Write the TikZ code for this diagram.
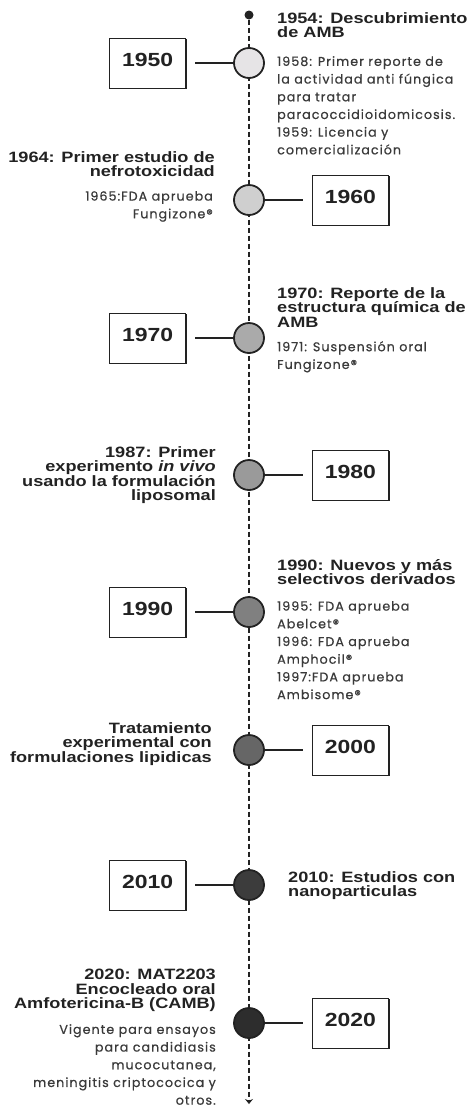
\documentclass[tikz,border=0pt]{standalone}
\usepackage{fontspec}
\usetikzlibrary{positioning,shadows,arrows.meta}
\newfontfamily\titfont{Liberation Sans}[UprightFont={* Bold}, ItalicFont={* Bold Italic}, FakeStretch=1.21]
\newfontfamily\txtfont{Poppins}[FakeBold=0.6, LetterSpace=8]
\definecolor{tinta}{HTML}{222222}
\definecolor{texto}{HTML}{3A3A3A}
\definecolor{gA}{HTML}{E6E4E6}
\definecolor{gB}{HTML}{CFCFCF}
\definecolor{gC}{HTML}{AAAAAA}
\definecolor{gD}{HTML}{9A9A9A}
\definecolor{gE}{HTML}{808080}
\definecolor{gF}{HTML}{666666}
\definecolor{gG}{HTML}{3C3C3C}
\definecolor{gH}{HTML}{2D2D2D}
\tikzset{
  punto/.style={circle, fill=tinta, minimum size=9pt, inner sep=0pt},
  eje/.style={draw=tinta, line width=2pt, dash pattern=on 5pt off 3pt, -{Stealth[length=5pt,width=8pt]}},
  hito/.style={circle, draw=tinta, line width=1.8pt, minimum size=30pt, inner sep=0pt},
  anio/.style={draw=tinta, fill=white, line width=0.9pt, minimum width=76pt, minimum height=50pt,
    inner sep=0pt, text height=14pt, text depth=7pt, text=tinta,
    font=\titfont\fontsize{19}{19}\selectfont,
    drop shadow={shadow xshift=1.3pt, shadow yshift=-1.3pt, fill=tinta, opacity=1}},
  conector/.style={draw=tinta, line width=1.8pt},
  titulo/.style={inner sep=0pt, text=tinta, font=\titfont\fontsize{15}{14.5}\selectfont},
  cuerpo/.style={inner sep=0pt, text=texto, font=\txtfont\fontsize{12.7}{17.7}\selectfont},
  der/.style={anchor=north west, align=left},
  izq/.style={anchor=north east, align=right}
}

\begin{document}
\begin{tikzpicture}[x=1pt, y=-1pt]
  %%%%% START %%%%%
  \useasboundingbox (0,0) rectangle (469,1109);
  \node[punto] (inicio) at (249,15) {};
  \coordinate (fin) at (249,1104);
  \draw[eje] (inicio) -- (fin);

  % 1950
  \node[hito, fill=gA] (c1950) at (249,63) {};
  \node[anio, left=47pt of c1950] (a1950) {1950};
  \draw[conector, shorten <=9pt] (a1950) -- (c1950);
  \node[titulo, der] (t1954) at (277,12) {1954: Descubrimiento\\de AMB};
  \node[cuerpo, der] (n1958) at (277,56) {1958: Primer reporte de\\la actividad anti fúngica\\para tratar\\paracoccidioidomicosis.\\1959: Licencia y\\comercialización};

  % 1960
  \node[hito, fill=gB] (c1960) at (249,200) {};
  \node[anio, right=47pt of c1960] (a1960) {1960};
  \draw[conector, shorten >=9pt] (c1960) -- (a1960);
  \node[titulo, izq] (t1964) at (215,151) {1964: Primer estudio de\\nefrotoxicidad};
  \node[cuerpo, izq] (n1965) at (213,191) {1965:FDA aprueba\\Fungizone®};

  % 1970
  \node[hito, fill=gC] (c1970) at (249,338) {};
  \node[anio, left=47pt of c1970] (a1970) {1970};
  \draw[conector, shorten <=9pt] (a1970) -- (c1970);
  \node[titulo, der] (t1970) at (277,287) {1970: Reporte de la\\estructura química de\\AMB};
  \node[cuerpo, der] (n1971) at (277,341) {1971: Suspensión oral\\Fungizone®};

  % 1980
  \node[hito, fill=gD] (c1980) at (249,475) {};
  \node[anio, right=47pt of c1980] (a1980) {1980};
  \draw[conector, shorten >=9pt] (c1980) -- (a1980);
  \node[titulo, izq] (t1987) at (216,446) {1987: Primer\\experimento \textit{in vivo}\\usando la formulación\\liposomal};

  % 1990
  \node[hito, fill=gE] (c1990) at (249,612) {};
  \node[anio, left=47pt of c1990] (a1990) {1990};
  \draw[conector, shorten <=9pt] (a1990) -- (c1990);
  \node[titulo, der] (t1990) at (277,559) {1990: Nuevos y más\\selectivos derivados};
  \node[cuerpo, der] (n1995) at (277,601) {1995: FDA aprueba\\Abelcet®\\1996: FDA aprueba\\Amphocil®\\1997:FDA aprueba\\Ambisome®};

  % 2000
  \node[hito, fill=gF] (c2000) at (249,750) {};
  \node[anio, right=47pt of c2000] (a2000) {2000};
  \draw[conector, shorten >=9pt] (c2000) -- (a2000);
  \node[titulo, izq] (t2000) at (212,722) {Tratamiento\\experimental con\\formulaciones lipidicas};

  % 2010
  \node[hito, fill=gG] (c2010) at (249,885) {};
  \node[anio, left=47pt of c2010] (a2010) {2010};
  \draw[conector, shorten <=9pt] (a2010) -- (c2010);
  \node[titulo, der] (t2010) at (288,871) {2010: Estudios con\\nanoparticulas};

  % 2020
  \node[hito, fill=gH] (c2020) at (249,1023) {};
  \node[anio, right=47pt of c2020] (a2020) {2020};
  \draw[conector, shorten >=9pt] (c2020) -- (a2020);
  \node[titulo, izq] (t2020) at (216,969) {2020: MAT2203\\Encocleado oral\\Amfotericina-B (CAMB)};
  \node[cuerpo, izq] (n2020) at (216,1024) {Vigente para ensayos\\para candidiasis\\mucocutanea,\\meningitis criptococica y\\otros.};
  %%%%% END %%%%%
\end{tikzpicture}
\end{document}
